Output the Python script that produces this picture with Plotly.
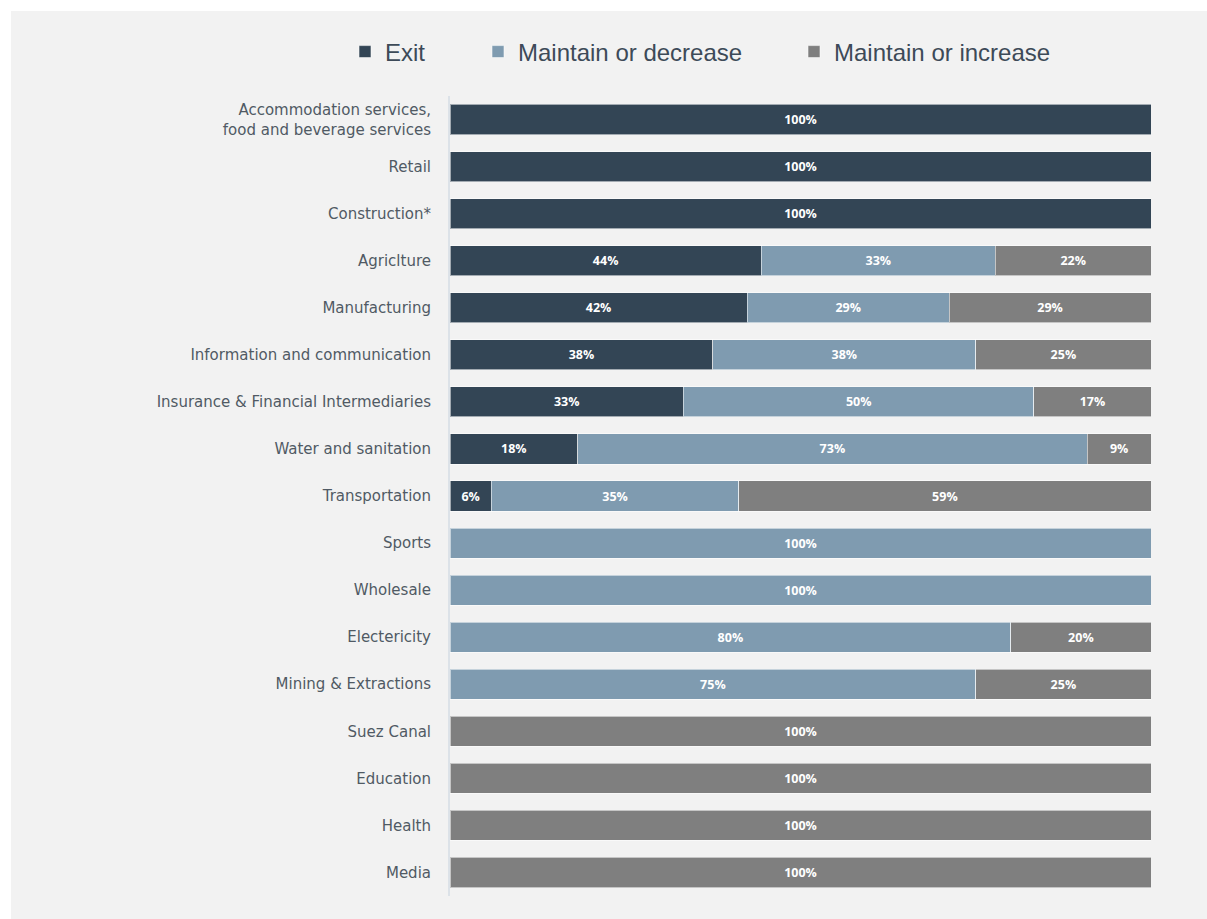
import plotly.graph_objects as go

# Sectors, top to bottom
sectors = [
    "Accommodation services,<br>food and beverage services",
    "Retail",
    "Construction*",
    "Agriclture",
    "Manufacturing",
    "Information and communication",
    "Insurance & Financial Intermediaries",
    "Water and sanitation",
    "Transportation",
    "Sports",
    "Wholesale",
    "Electericity",
    "Mining & Extractions",
    "Suez Canal",
    "Education",
    "Health",
    "Media",
]

# Share of firms per planned action (%); None = no firms in that group
exit_share = [100, 100, 100, 44.4, 42.4, 37.5, 33.3, 18.2, 5.9,
              None, None, None, None, None, None, None, None]
decrease_share = [None, None, None, 33.4, 28.8, 37.5, 50.0, 72.7, 35.3,
                  100, 100, 80, 75, None, None, None, None]
increase_share = [None, None, None, 22.2, 28.8, 25.0, 16.7, 9.1, 58.8,
                  None, None, 20, 25, 100, 100, 100, 100]

series = [
    ("Exit", exit_share, "#334555", "legend", 345),
    ("Maintain or decrease", decrease_share, "#7f9bb0", "legend2", 478),
    ("Maintain or increase", increase_share, "#7f7f7f", "legend3", 794),
]

W, H = 1207, 919
ML, MR, MT, MB = 450, 56, 96, 23
PW, PH = W - ML - MR, H - MT - MB


def px_to_paper_x(px):
    return (px - ML) / PW


def px_to_paper_y(py):
    return (H - MB - py) / PH


fig = go.Figure()
for name, vals, color, leg, _ in series:
    fig.add_trace(go.Bar(
        name=name,
        y=sectors,
        x=vals,
        orientation="h",
        marker=dict(color=color, line=dict(color="rgba(255,255,255,0.55)", width=1)),
        texttemplate="%{x:.0f}%",
        textposition="inside",
        insidetextanchor="middle",
        textfont=dict(family="Open Sans", size=12.5, color="white", weight="bold"),
        cliponaxis=False,
        legend=leg,
        hoverinfo="skip",
    ))

legend_font = dict(family="Liberation Sans, Arial", size=24, color="#3d4a58")
legend_common = dict(
    orientation="h",
    yanchor="middle",
    xanchor="left",
    y=px_to_paper_y(52),
    bgcolor="rgba(0,0,0,0)",
    font=legend_font,
    itemwidth=30,
)

layout_legends = {}
for name, vals, color, leg, lx in series:
    layout_legends[leg] = dict(legend_common, x=px_to_paper_x(lx))

fig.update_layout(
    width=W,
    height=H,
    margin=dict(l=ML, r=MR, t=MT, b=MB, pad=0),
    barmode="stack",
    bargap=0.36,
    paper_bgcolor="white",
    plot_bgcolor="#f2f2f2",
    showlegend=True,
    **layout_legends,
    xaxis=dict(range=[0, 100], visible=False, fixedrange=True),
    yaxis=dict(
        autorange="reversed",
        showgrid=False,
        zeroline=False,
        showline=True,
        linecolor="#dce2e8",
        linewidth=2,
        ticks="",
        ticklabelstandoff=14,
        tickfont=dict(family="DejaVu Sans", size=15, color="#505a64"),
    ),
    shapes=[dict(
        type="rect", xref="paper", yref="paper", layer="below",
        x0=px_to_paper_x(11), x1=px_to_paper_x(W + 5),
        y0=px_to_paper_y(H + 5), y1=px_to_paper_y(11),
        fillcolor="#f2f2f2", line=dict(width=0),
    )],
)

fig.write_html("out.html")
